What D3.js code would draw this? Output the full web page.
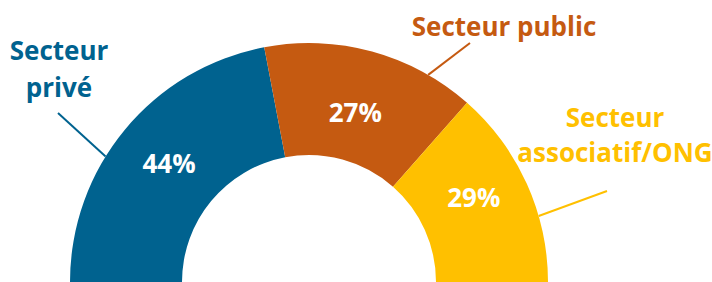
<!DOCTYPE html>
<html>
<head>
<meta charset="utf-8">
<script src="https://cdn.jsdelivr.net/npm/d3@7"></script>
<style>
  html, body { margin: 0; padding: 0; background: #fff; }
  svg { display: block; }
  text { font-family: "Open Sans", sans-serif; font-weight: 700; }
</style>
</head>
<body>
<script>
// data
var sectors = ["Secteur privé", "Secteur public", "Secteur associatif/ONG"];
var shares = [44, 29, 27];               // arc sizes as drawn
var pctLabels = ["44%", "27%", "29%"];   // text printed on the arcs
var nameLines = [["Secteur", "privé"], ["Secteur public"], ["Secteur", "associatif/ONG"]];
var colors = ["#00628f", "#c55a11", "#ffc000"];

var width = 712, height = 282;
var cx = 309, cy = 282, outerR = 239, innerR = 127;

// where each leader leaves its slice (fraction of slice), where its name sits,
// and a small nudge of the percentage off the centroid
var layout = [
  { f: 0.40, lx: 58,  ly: 113, tx: 59,  ty: 60,  lh: 37, nx: 1,  ny: -1 },
  { f: 0.78, lx: 470, ly: 43,  tx: 504, ty: 36,  lh: 36, nx: -2, ny: 7 },
  { f: 0.67, lx: 607, ly: 191, tx: 615, ty: 127, lh: 35, nx: -2, ny: -9 }
];

var svg = d3.select("body").append("svg")
    .attr("width", width)
    .attr("height", height);

var g = svg.append("g").attr("transform", "translate(" + cx + "," + cy + ")");

var pie = d3.pie()
    .sort(null)
    .startAngle(-Math.PI / 2)
    .endAngle(Math.PI / 2)
    .value(function(d) { return d; });

var arc = d3.arc().innerRadius(innerR).outerRadius(outerR);
var arcs = pie(shares);

g.selectAll("path.slice")
    .data(arcs)
    .enter().append("path")
    .attr("class", "slice")
    .attr("d", arc)
    .attr("fill", function(d, i) { return colors[i]; });

// percentage labels
g.selectAll("text.pct")
    .data(arcs)
    .enter().append("text")
    .attr("class", "pct")
    .attr("transform", function(d, i) {
        var c = arc.centroid(d);
        return "translate(" + (c[0] + layout[i].nx) + "," + (c[1] + layout[i].ny) + ")";
    })
    .attr("text-anchor", "middle")
    .attr("dy", "0.35em")
    .attr("fill", "#fff")
    .style("font-size", "26px")
    .text(function(d, i) { return pctLabels[i]; });

// leader lines
svg.selectAll("line.leader")
    .data(arcs)
    .enter().append("line")
    .attr("class", "leader")
    .attr("x1", function(d, i) {
        var a = d.startAngle + (d.endAngle - d.startAngle) * layout[i].f;
        return cx + outerR * Math.sin(a);
    })
    .attr("y1", function(d, i) {
        var a = d.startAngle + (d.endAngle - d.startAngle) * layout[i].f;
        return cy - outerR * Math.cos(a);
    })
    .attr("x2", function(d, i) { return layout[i].lx; })
    .attr("y2", function(d, i) { return layout[i].ly; })
    .attr("stroke", function(d, i) { return colors[i]; })
    .attr("stroke-width", 2);

// sector names
var names = svg.selectAll("text.name")
    .data(sectors)
    .enter().append("text")
    .attr("class", "name")
    .attr("text-anchor", "middle")
    .attr("fill", function(d, i) { return colors[i]; })
    .style("font-size", "26px");

names.each(function(d, i) {
    var t = d3.select(this);
    nameLines[i].forEach(function(line, k) {
        t.append("tspan")
            .attr("x", layout[i].tx)
            .attr("y", layout[i].ty + k * layout[i].lh)
            .text(line);
    });
});
</script>
</body>
</html>
